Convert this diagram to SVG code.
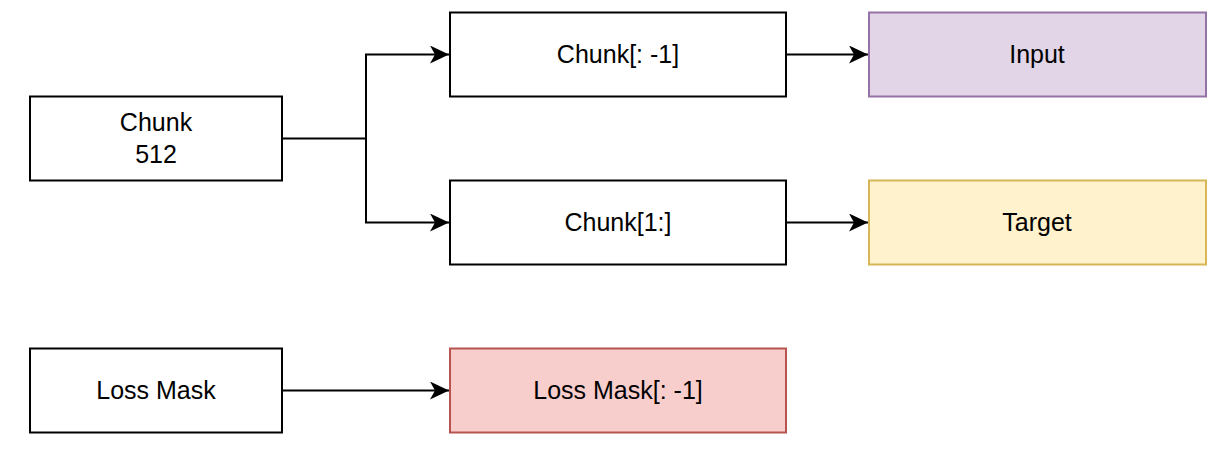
<svg xmlns="http://www.w3.org/2000/svg" width="1228" height="466" viewBox="0 0 1228 466">
<defs>
<style>
.box{stroke-width:2;}
.plain{fill:#ffffff;stroke:#000000;}
.purple{fill:#e1d5e7;stroke:#9673a6;}
.yellow{fill:#fff2cc;stroke:#d6b656;}
.red{fill:#f8cecc;stroke:#b85450;}
.lbl{font-family:"Liberation Sans",Arial,Helvetica,sans-serif;font-size:25px;fill:#000000;text-anchor:middle;}
.edge{fill:none;stroke:#000000;stroke-width:2;}
</style>
<marker id="arrow" viewBox="0 0 20 18" refX="19" refY="9" markerWidth="20" markerHeight="18" markerUnits="userSpaceOnUse" orient="auto">
<path d="M0,0 L19,9 L0,18 L5,9 Z" fill="#000000"/>
</marker>
</defs>
<rect width="1228" height="466" fill="#ffffff"/>
<g id="connectors">
<path class="edge" d="M282,138.5 H366 V54.5 H449" marker-end="url(#arrow)"/>
<path class="edge" d="M366,138.5 V222.5 H449" marker-end="url(#arrow)"/>
<path class="edge" d="M786,54.5 H868" marker-end="url(#arrow)"/>
<path class="edge" d="M786,222.5 H868" marker-end="url(#arrow)"/>
<path class="edge" d="M282,390.5 H449" marker-end="url(#arrow)"/>
</g>
<g id="chunk">
<rect class="box plain" x="30" y="96.5" width="252" height="84"/>
<text class="lbl" x="156" y="131">Chunk</text>
<text class="lbl" x="156" y="163">512</text>
</g>
<g id="chunk-head">
<rect class="box plain" x="450" y="12.5" width="336" height="84"/>
<text class="lbl" x="618" y="63">Chunk[: -1]</text>
</g>
<g id="input">
<rect class="box purple" x="869" y="12.5" width="337" height="84"/>
<text class="lbl" x="1037" y="63">Input</text>
</g>
<g id="chunk-tail">
<rect class="box plain" x="450" y="180.5" width="336" height="84"/>
<text class="lbl" x="618" y="231">Chunk[1:]</text>
</g>
<g id="target">
<rect class="box yellow" x="869" y="180.5" width="337" height="84"/>
<text class="lbl" x="1037" y="231">Target</text>
</g>
<g id="loss-mask">
<rect class="box plain" x="30" y="348.5" width="252" height="84"/>
<text class="lbl" x="156" y="399">Loss Mask</text>
</g>
<g id="loss-mask-head">
<rect class="box red" x="450" y="348.5" width="336" height="84"/>
<text class="lbl" x="618" y="399">Loss Mask[: -1]</text>
</g>
</svg>
